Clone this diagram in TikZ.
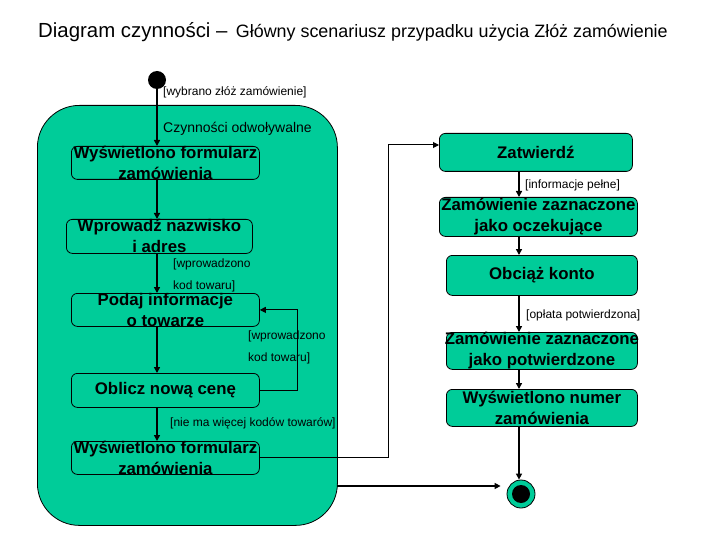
\documentclass[tikz,border=0pt]{standalone}
\usepackage{fontspec}
\setmainfont{Liberation Sans}
\usetikzlibrary{arrows.meta,positioning,calc}
\definecolor{uml}{HTML}{00CC99}
\definecolor{ink}{HTML}{000000}
\newcommand{\actfont}{\fontsize{16.8}{21}\selectfont\bfseries}
\tikzset{
  region/.style={draw=ink, fill=uml, rounded corners=42pt, line width=0.8pt,
                 anchor=north west, inner sep=0pt},
  act/.style={draw=ink, fill=uml, rounded corners=6pt, line width=0.8pt,
              anchor=north west, inner sep=0pt},
  acttext/.style={font=\actfont, align=center, inner sep=0pt, text=ink},
  guard/.style={font=\fontsize{12}{22}\selectfont, align=left, anchor=west, inner sep=0pt},
  startnode/.style={circle, fill=ink, minimum size=18pt, inner sep=0pt},
  endnode/.style={circle, draw=ink, fill=uml, line width=0.8pt, minimum size=28pt, inner sep=0pt,
                  path picture={\fill[ink] (path picture bounding box.center) circle (9pt);}},
  flow/.style={-{Triangle[length=6pt,width=6pt]}, line width=1.8pt, draw=ink},
  link/.style={-{Triangle[length=6pt,width=6pt]}, line width=1pt, draw=ink}
}
\begin{document}
\begin{tikzpicture}[x=1pt, y=-1pt]
  \useasboundingbox (0,0) rectangle (720,540);

  %% Title
  \node[anchor=base west, inner sep=0pt, font=\fontsize{20.4}{24}\selectfont] (title) at (38,38)
        {Diagram czynności –};
  \node[right=8pt of title.base east, anchor=base west, inner sep=0pt,
        font=\fontsize{17.9}{20}\selectfont] (subtitle)
        {Główny scenariusz przypadku użycia Złóż zamówienie};

  %% Cancellable activities
  \node[region, minimum width=300pt, minimum height=420pt] (cancel) at (37,105) {};
  \node[startnode] (start) at (157,80) {};
  \node[guard] (gStart) at (163,92) {[wybrano złóż zamówienie]};
  \node[guard, font=\fontsize{14}{16}\selectfont] (gRegion) at (163,129) {Czynności odwoływalne};

  \node[act, minimum width=188pt, minimum height=33pt,
        label={[acttext]center:Wyświetlono formularz\\zamówienia}] (form) at (71,146) {};
  \node[act, minimum width=186pt, minimum height=34pt,
        label={[acttext]center:Wprowadź nazwisko\\i adres}] (addr) at (66,219) {};
  \node[act, minimum width=188pt, minimum height=33pt,
        label={[acttext]center:Podaj informacje\\o towarze}] (item) at (71,293) {};
  \node[act, minimum width=188pt, minimum height=34pt,
        label={[acttext]center:Oblicz nową cenę}] (price) at (71,373) {};
  \node[act, minimum width=188pt, minimum height=33pt,
        label={[acttext]center:Wyświetlono formularz\\zamówienia}] (form2) at (71,441) {};

  \node[guard] (gCode) at (173,275.5) {[wprowadzono\\kod towaru]};
  \node[guard] (gLoop) at (248,347.5) {[wprowadzono\\kod towaru]};
  \node[guard] (gDone) at (170,423) {[nie ma więcej kodów towarów]};

  %% Order processing
  \node[act, minimum width=193pt, minimum height=38pt,
        label={[acttext]center:Zatwierdź}] (confirm) at (439,133) {};
  \node[act, minimum width=198pt, minimum height=39pt,
        label={[acttext]center:Zamówienie zaznaczone\\jako oczekujące}] (pending) at (439,197) {};
  \node[act, minimum width=191pt, minimum height=40pt,
        label={[acttext]center:Obciąż konto}] (charge) at (446,255) {};
  \node[act, minimum width=191pt, minimum height=37pt,
        label={[acttext]center:Zamówienie zaznaczone\\jako potwierdzone}] (paid) at (446,332) {};
  \node[act, minimum width=191pt, minimum height=37pt,
        label={[acttext]center:Wyświetlono numer\\zamówienia}] (number) at (446,389) {};
  \node[endnode] (finish) at (521,494) {};

  \node[guard] (gFull) at (525,185) {[informacje pełne]};
  \node[guard] (gPaid) at (526,315) {[opłata potwierdzona]};

  %% Flows
  \coordinate (lane) at (519,0);
  \coordinate (back) at (388,145);
  \coordinate (exit) at (337,486);
  \draw[flow] (start.south) -- (form.north -| start);
  \draw[flow] (form.south -| start) -- (addr.north -| start);
  \draw[flow] (addr.south -| start) -- (item.north -| start);
  \draw[flow] (item.south -| start) -- (price.north -| start);
  \draw[flow] (price.south -| start) -- (form2.north -| start);
  \draw[link] (price.east) -- ++(38,0) |- (item.east);
  \draw[link] (form2.east) -| (back) -- (confirm.west |- back);
  \draw[flow] (exit) -- ([xshift=-6pt]finish.west |- exit);

  \draw[flow] (confirm.south -| lane) -- (pending.north -| lane);
  \draw[flow] (pending.south -| lane) -- (charge.north -| lane);
  \draw[flow] (charge.south -| lane) -- (paid.north -| lane);
  \draw[flow] (paid.south -| lane) -- (number.north -| lane);
  \draw[flow] (number.south -| lane) -- (finish.north -| lane);

\end{tikzpicture}
\end{document}
